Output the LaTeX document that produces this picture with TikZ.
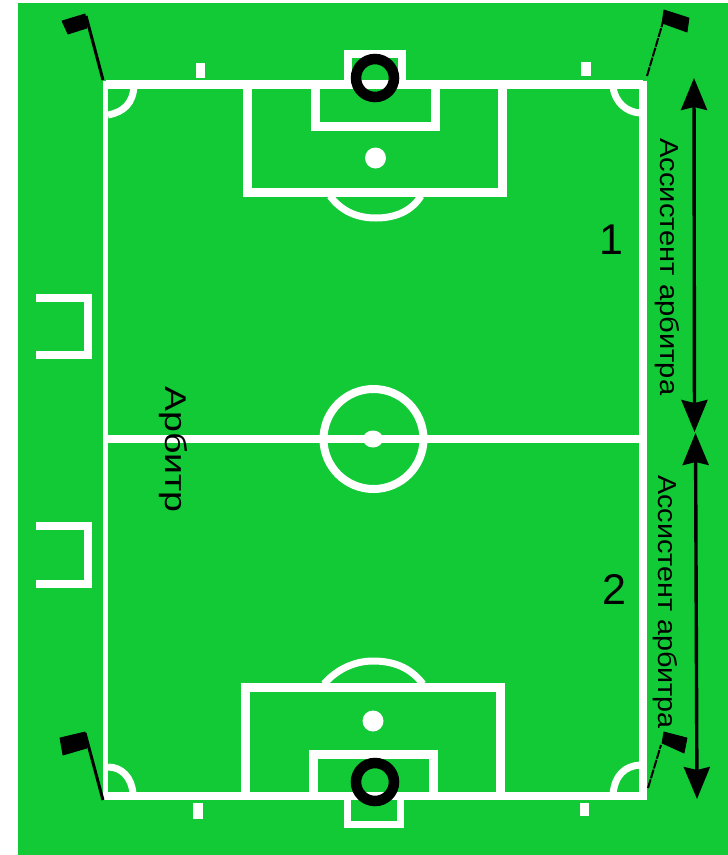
\documentclass[tikz,border=0pt]{standalone}
\usepackage{fontspec}
\setmainfont{Liberation Sans}
\usetikzlibrary{arrows.meta}
\definecolor{pitch}{RGB}{18,201,54}
\tikzset{
  fieldline/.style={draw=white,line width=#1,line join=miter},
  fieldline/.default=8pt,
  disc/.style={fill=white,draw=none},
  ring/.style={draw=black,line width=10.5pt},
  flagcloth/.style={fill=black,draw=black,line width=.8pt,line join=round},
  flagpole/.style={draw=black,line width=3pt},
  flagpoledash/.style={draw=black,line width=2pt,dash pattern=on 9pt off 1.2pt},
  span/.style={draw=black,line width=3.4pt,{Stealth[length=32pt,width=26pt,inset=3pt]}-{Stealth[length=32pt,width=26pt,inset=3pt]}},
  sidetext/.style={rotate=-90,anchor=base west,inner sep=0pt,text=black},
  numtext/.style={inner sep=0pt,text=black,font=\fontsize{43}{43}\selectfont}
}
\begin{document}
\begin{tikzpicture}[x=1pt,y=-1pt]
\useasboundingbox (0,0) rectangle (728,855);
\fill[white] (0,0) rectangle (728,855);
\fill[pitch] (18,3) rectangle (728,855);
% outer field
\draw[fieldline=8.5pt] (106,84.5) -- (643,84.5);
\draw[fieldline=8pt] (106,796) -- (643,796);
\draw[fieldline=5.5pt] (105.5,80.5) -- (105.5,800);
\draw[fieldline=8pt] (643,80.5) -- (643,800);
\draw[fieldline=7.5pt] (108,439) -- (640,439);
% top area
\draw[fieldline=9pt] (247,85) -- (247,192) -- (502,192) -- (502,85);
\draw[fieldline=9pt] (315,85) -- (315,126) -- (435,126) -- (435,85);
\draw[fieldline=8pt] (348,81) -- (348,54) -- (402,54) -- (402,81);
\draw[fieldline=7pt] (330,196) .. controls (342,212) and (358,218) .. (376,218) .. controls (394,218) and (411,212) .. (421,196);
\fill[disc] (375.5,158) circle (10.5pt);
% bottom area
\draw[fieldline=9pt] (245,796) -- (245,687.5) -- (500,687.5) -- (500,796);
\draw[fieldline=9pt] (313,796) -- (313,754) -- (433,754) -- (433,796);
\draw[fieldline=7pt] (347,800) -- (347,824.5) -- (400,824.5) -- (400,800);
\draw[fieldline=7pt] (324,684) .. controls (337,669) and (355,661) .. (373,661) .. controls (393,661) and (410,667) .. (423,684);
\fill[disc] (373,721) circle (10.5pt);
% centre
\draw[fieldline=8pt] (373.5,439) circle (50pt);
\fill[disc] (373,439) ellipse (10pt and 8.5pt);
% corners
\draw[fieldline=7pt] (134,86) .. controls (133,103) and (124,112) .. (108,115);
\draw[fieldline=7pt] (613,87) .. controls (615,102) and (626,112) .. (640,113);
\draw[fieldline=7pt] (108,767) .. controls (122,767) and (132,778) .. (133,794);
\draw[fieldline=7pt] (613,794) .. controls (615,775) and (625,766) .. (640,765);
% ticks
\fill[white] (196,63) rectangle (205,78);
\fill[white] (581,62) rectangle (591,76);
\fill[white] (193,803) rectangle (203,819);
\fill[white] (580,803) rectangle (589,816);
% side boxes
\draw[fieldline=8pt] (36,298) -- (88,298) -- (88,355) -- (36,355);
\draw[fieldline=8pt] (36,526) -- (88,526) -- (88,584) -- (36,584);
% goal rings
\draw[ring] (375,78) circle (19pt);
\draw[ring] (375,782) circle (19pt);
% flags
\draw[flagpole] (103,80) -- (86,16);
\fill[flagcloth] (62,21) -- (85,14) -- (87,28) -- (68,34) -- cycle;
\draw[flagpoledash] (647,76) -- (663,22);
\fill[flagcloth] (664,10) -- (689,18) -- (687,32) -- (662,23) -- cycle;
\draw[flagpole] (103,800) -- (85,733);
\fill[flagcloth] (60,738) -- (85,732) -- (87,748) -- (63,755) -- cycle;
\draw[flagpoledash] (648,788) -- (661,745);
\fill[flagcloth] (664,732) -- (687,738) -- (684,753) -- (662,743) -- cycle;
% arrows
\coordinate (a1) at (694,78);
\coordinate (a2) at (694.5,432);
\coordinate (b1) at (695.5,433);
\coordinate (b2) at (697,799);
\draw[span] (a1) -- (a2);
\draw[span] (b1) -- (b2);
% labels
\node[sidetext] (as1) at (660,138) {\fontsize{26}{26}\selectfont\scalebox{1.12}[1]{Ассистент арбитра}};
\node[sidetext] (as2) at (658.5,475) {\fontsize{26}{26}\selectfont\scalebox{1.105}[1]{Ассистент арбитра}};
\node[sidetext] (ref) at (165,386) {\fontsize{30}{30}\selectfont\scalebox{1.25}[1]{Арбитр}};
\node[numtext] (n1) at (611,240) {1};
\node[numtext] (n2) at (614,589) {2};
\end{tikzpicture}
\end{document}
